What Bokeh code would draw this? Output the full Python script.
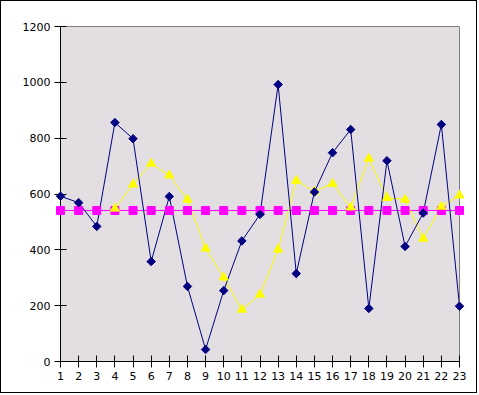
from bokeh.plotting import figure
from bokeh.models import Range1d, FixedTicker
from bokeh.embed import file_html
from bokeh.resources import INLINE

x = list(range(1, 24))
blue = [592, 569, 484, 856, 798, 358, 591, 269, 43, 254, 432, 527, 992, 315, 607,
        748, 831, 190, 719, 412, 532, 849, 198]
yellow_x = list(range(4, 24))
yellow = [548, 634, 709, 667, 580, 405, 301, 186, 240, 401, 648, 609, 637, 552,
          727, 586, 580, 440, 555, 595]
magenta = [541] * 23
y_ticks = [0, 200, 400, 600, 800, 1000, 1200]

p = figure(width=477, height=393, output_backend="svg", toolbar_location=None,
           x_range=Range1d(1, 23), y_range=Range1d(0, 1200),
           min_border_left=59, min_border_top=25, min_border_right=19, min_border_bottom=33)
p.styles = {"border": "1px solid black"}
p.background_fill_color = "#E2DEE2"
p.border_fill_color = "white"
p.outline_line_color = "#808080"
p.outline_line_width = 1
p.xgrid.visible = False
p.ygrid.visible = False

for ax in (p.xaxis[0], p.yaxis[0]):
    ax.axis_line_color = "black"
    ax.major_tick_line_color = "black"
    ax.minor_tick_line_color = None
    ax.major_tick_in = 6
    ax.major_tick_out = 6
    ax.major_label_text_font = "DejaVu Sans"
    ax.major_label_text_font_size = "11px"
    ax.major_label_text_color = "black"
    ax.major_label_standoff = 4
p.xaxis[0].ticker = FixedTicker(ticks=x)
p.yaxis[0].ticker = FixedTicker(ticks=y_ticks)

# magenta
p.line(x, magenta, line_color="#FF00FF", line_width=1)
r = p.scatter(x, magenta, marker="square", size=8, fill_color="#FF00FF", line_color="#FF00FF")
r.level = "annotation"
# yellow
p.line(yellow_x, yellow, line_color="#FFFF00", line_width=1)
r = p.scatter(yellow_x, yellow, marker="triangle", size=9, fill_color="#FFFF00", line_color="#FFFF00")
r.level = "annotation"
# blue
p.line(x, blue, line_color="#000080", line_width=1)
r = p.scatter(x, blue, marker="square", angle=0.785398, size=6, fill_color="#000080", line_color="#000080")
r.level = "annotation"

open("out.html", "w").write(file_html(p, INLINE))
